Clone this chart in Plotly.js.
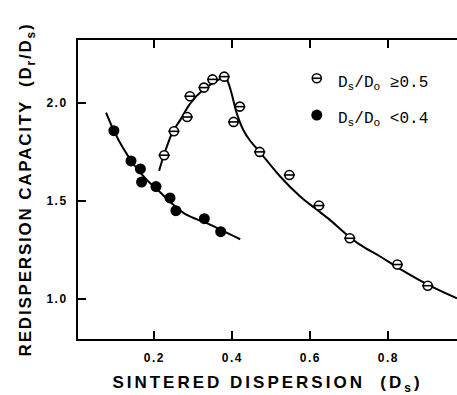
<!DOCTYPE html>
<html>
<head>
<meta charset="utf-8">
<script src="https://cdn.plot.ly/plotly-3.0.1.min.js"></script>
<style>
html,body{margin:0;padding:0;background:#fff;}
#chart{width:457px;height:395px;}
#chart .xtitle{letter-spacing:3px;}
#chart .ytitle{letter-spacing:1.8px;}
#chart .xtick text,#chart .ytick text{letter-spacing:1.5px;}
</style>
</head>
<body>
<div id="chart"></div>
<script>
// Open circles: Ds/Do >= 0.5
const openX = [0.225, 0.250, 0.284, 0.291, 0.327, 0.349, 0.379, 0.419, 0.403, 0.470, 0.546, 0.622, 0.701, 0.823, 0.901];
const openY = [1.735, 1.857, 1.930, 2.036, 2.080, 2.122, 2.136, 1.983, 1.905, 1.752, 1.634, 1.478, 1.311, 1.177, 1.069];
// Filled circles: Ds/Do < 0.4
const fillX = [0.096, 0.140, 0.164, 0.167, 0.204, 0.240, 0.255, 0.328, 0.370];
const fillY = [1.860, 1.706, 1.665, 1.598, 1.575, 1.517, 1.452, 1.411, 1.345];
// Fitted curves
const riseX = [0.212, 0.225, 0.247, 0.266, 0.292, 0.326, 0.360, 0.383];
const riseY = [1.655, 1.740, 1.855, 1.914, 2.000, 2.070, 2.115, 2.140];
const fallX = [0.383, 0.392, 0.398, 0.411, 0.428, 0.445, 0.470, 0.523, 0.574, 0.612, 0.650, 0.689, 0.728, 0.779, 0.823, 0.901, 0.976];
const fallY = [2.140, 2.090, 2.050, 1.950, 1.864, 1.810, 1.752, 1.625, 1.524, 1.464, 1.405, 1.337, 1.277, 1.218, 1.163, 1.075, 1.005];
const lowX = [0.076, 0.096, 0.120, 0.150, 0.180, 0.210, 0.250, 0.283, 0.334, 0.380, 0.420];
const lowY = [1.952, 1.860, 1.770, 1.680, 1.610, 1.555, 1.480, 1.430, 1.388, 1.345, 1.306];
// Tick labels
const xTicks = [0.2, 0.4, 0.6, 0.8];
const xTickText = ['0.2', '0.4', '0.6', '0.8'];
const yTicks = [1.0, 1.5, 2.0];
const yTickText = ['1.0', '1.5', '2.0'];

const lineStyle = {color: '#000', width: 2};
const traces = [
  {x: riseX, y: riseY, mode: 'lines', line: Object.assign({shape: 'spline'}, lineStyle), hoverinfo: 'skip'},
  {x: fallX, y: fallY, mode: 'lines', line: Object.assign({shape: 'spline'}, lineStyle), hoverinfo: 'skip'},
  {x: lowX, y: lowY, mode: 'lines', line: Object.assign({shape: 'spline'}, lineStyle), hoverinfo: 'skip'},
  {x: openX, y: openY, mode: 'markers', marker: {symbol: 'circle', size: 9, color: '#fff', line: {color: '#000', width: 1.6}}},
  {x: openX, y: openY, mode: 'markers', marker: {symbol: 'line-ew', size: 8, color: '#000', line: {color: '#000', width: 1.6}}},
  {x: fillX, y: fillY, mode: 'markers', marker: {symbol: 'circle', size: 11, color: '#000', line: {width: 0}}}
];

const titleFont = 'Liberation Sans, Arial, sans-serif';
const L = {x: 0.630, y1: 0.872, y2: 0.749};
const layout = {
  width: 457, height: 395,
  margin: {l: 78, r: 0, t: 40, b: 56},
  paper_bgcolor: '#fff', plot_bgcolor: '#fff',
  showlegend: false,
  font: {family: titleFont, color: '#000'},
  xaxis: {
    range: [0.004, 0.976], tickvals: xTicks, ticktext: xTickText,
    ticks: 'inside', ticklen: 8, tickwidth: 2, tickcolor: '#000',
    showline: true, linewidth: 2, linecolor: '#000', mirror: 'ticks',
    showgrid: false, zeroline: false, ticklabelstandoff: 7,
    tickfont: {size: 12, family: titleFont, weight: 'bold'},
    title: {text: 'SINTERED DISPERSION  (D<sub>s</sub>)', font: {size: 17, family: titleFont, weight: 'bold'}, standoff: 13}
  },
  yaxis: {
    range: [0.797, 2.323], tickvals: yTicks, ticktext: yTickText,
    ticks: 'inside', ticklen: 8, tickwidth: 2, tickcolor: '#000',
    showline: true, linewidth: 2, linecolor: '#000',
    showgrid: false, zeroline: false, ticklabelstandoff: 6,
    tickfont: {size: 12, family: titleFont, weight: 'bold'},
    title: {text: 'REDISPERSION CAPACITY  (D<sub>r</sub>/D<sub>s</sub>)', font: {size: 17, family: titleFont, weight: 'bold'}, standoff: 15}
  },
  shapes: [
    {type: 'circle', xref: 'paper', yref: 'paper', xsizemode: 'pixel', ysizemode: 'pixel', xanchor: L.x, yanchor: L.y1, x0: -4.5, x1: 4.5, y0: -4.5, y1: 4.5, line: {color: '#000', width: 1.6}, fillcolor: '#fff'},
    {type: 'line', xref: 'paper', yref: 'paper', xsizemode: 'pixel', ysizemode: 'pixel', xanchor: L.x, yanchor: L.y1, x0: -4, x1: 4, y0: 0, y1: 0, line: {color: '#000', width: 1.6}},
    {type: 'circle', xref: 'paper', yref: 'paper', xsizemode: 'pixel', ysizemode: 'pixel', xanchor: L.x, yanchor: L.y2, x0: -5.5, x1: 5.5, y0: -5.5, y1: 5.5, line: {width: 0}, fillcolor: '#000'}
  ],
  annotations: [
    {xref: 'paper', yref: 'paper', x: 0.681, y: 0.853, xanchor: 'left', yanchor: 'middle', showarrow: false,
     text: 'D<sub>s</sub>/D<sub>o</sub> ≥0.5', font: {family: 'Liberation Mono, DejaVu Sans Mono, monospace', size: 16}},
    {xref: 'paper', yref: 'paper', x: 0.681, y: 0.735, xanchor: 'left', yanchor: 'middle', showarrow: false,
     text: 'D<sub>s</sub>/D<sub>o</sub> <0.4', font: {family: 'Liberation Mono, DejaVu Sans Mono, monospace', size: 16}}
  ]
};

Plotly.newPlot('chart', traces, layout, {staticPlot: true, displayModeBar: false});
</script>
</body>
</html>
